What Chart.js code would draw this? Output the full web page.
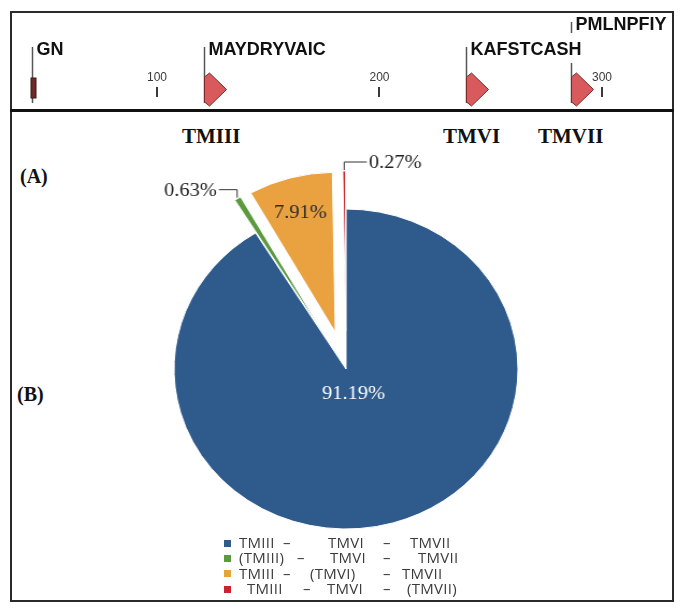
<!DOCTYPE html>
<html>
<head>
<meta charset="utf-8">
<script src="https://cdn.jsdelivr.net/npm/chart.js@4.4.0/dist/chart.umd.min.js"></script>
<style>
  body { margin: 0; background: #fff; width: 685px; height: 616px; position: relative; overflow: hidden; }
  #frame { position: absolute; left: 10px; top: 11px; width: 664px; height: 591px; border: 2px solid #2a2a2a; box-sizing: border-box; }
  #divider { position: absolute; left: 10px; top: 109px; width: 664px; height: 3px; background: #111; }
  #mapWrap { position: absolute; left: 11px; top: 13px; width: 662px; height: 96px; }
  #pieWrap { position: absolute; left: 145.5px; top: 150px; transform: scaleX(1.075); transform-origin: 200px 0; }
  .tm { position: absolute; top: 126px; font: bold 21px "Liberation Serif"; line-height: 21px; color: #111; }
  .panel { position: absolute; font: bold 20px "Liberation Serif"; line-height: 20px; color: #111; }
  #legend { position: absolute; left: 224px; top: 535px; font: 15px "Open Sans"; letter-spacing: 0.3px; color: #3c3c3c; }
  .row { position: relative; height: 15.4px; line-height: 15.4px; width: 260px; }
  .row span { position: absolute; top: 0; white-space: pre; }
  .sw { position: absolute; left: 0; top: 4.5px; width: 7px; height: 7px; }
</style>
</head>
<body>
<div id="frame"></div>
<div id="mapWrap"><canvas id="map" width="662" height="96"></canvas></div>
<div id="divider"></div>
<div class="tm" style="left:182px">TMIII</div>
<div class="tm" style="left:443px">TMVI</div>
<div class="tm" style="left:538px">TMVII</div>
<div class="panel" style="left:20px; top:166px">(A)</div>
<div class="panel" style="left:17px; top:384px">(B)</div>
<div id="pieWrap"><canvas id="pie" width="400" height="438"></canvas></div>
<div id="legend"></div>

<script>
// sequence map (top panel)
const motifNames = ['GN', 'MAYDRYVAIC', 'KAFSTCASH', 'PMLNPFIY'];
const motifStart = [44, 121, 239, 286];
const motifType = ['bar', 'arrow', 'arrow', 'arrow'];
const posTicks = [100, 200, 300];

// pie (bottom panel)
const comboLabels = [
    'TMIII \u2013 TMVI \u2013 TMVII',
    '(TMIII) \u2013 TMVI \u2013 TMVII',
    'TMIII \u2013 (TMVI) \u2013 TMVII',
    'TMIII \u2013 TMVI \u2013 (TMVII)'
];
const comboShare = [91.19, 0.63, 7.91, 0.27];
const comboColors = ['#2f5a8c', '#5b9b3e', '#e9a23f', '#c8242b'];

// where each legend word starts, as in the source figure
const legendTokenX = [
    [15, 59, 104, 159, 186],
    [15, 73, 106, 159, 194],
    [15, 59, 86, 159, 178],
    [23, 79, 103, 159, 183]
];

// top panel drawing
const mapPainter = {
    id: 'mapPainter',
    afterDatasetsDraw(chart) {
        const c = chart.ctx;
        const xs = chart.scales.x;
        c.save();

        c.fillStyle = '#3a3a3a';
        c.font = '12px "Liberation Sans"';
        c.textAlign = 'center';
        c.textBaseline = 'middle';
        posTicks.forEach(v => {
            const px = xs.getPixelForValue(v);
            c.fillText(String(v), px, 64.5);
            c.fillRect(Math.round(px) - 1, 74, 2, 10);
        });

        c.font = 'bold 18px "Liberation Sans"';
        c.textAlign = 'left';
        c.textBaseline = 'alphabetic';
        let prevEnd = -Infinity;
        chart.getDatasetMeta(0).data.forEach((p, i) => {
            const x = Math.round(p.x) + 0.5;
            const w = c.measureText(motifNames[i]).width;
            const raised = x + 4 < prevEnd + 4;
            prevEnd = x + 4 + w;

            c.strokeStyle = '#555';
            c.lineWidth = 1.5;
            c.beginPath();
            if (raised) {
                c.moveTo(x, 9); c.lineTo(x, 20);
                c.moveTo(x, 50);
            } else {
                c.moveTo(x, 34);
            }
            c.lineTo(x, 90);
            c.stroke();

            c.fillStyle = '#111';
            c.fillText(motifNames[i], x + 4, raised ? 17 : 42);

            if (motifType[i] === 'bar') {
                c.fillStyle = '#6e2a2a';
                c.fillRect(x - 1.5, 65, 5, 20);
                c.strokeStyle = '#3a1a1a';
                c.lineWidth = 1;
                c.strokeRect(x - 1.5, 65, 5, 20);
            } else {
                c.beginPath();
                c.moveTo(x, 64);
                c.lineTo(x + 5, 60);
                c.lineTo(x + 22, 76.5);
                c.lineTo(x + 5, 93);
                c.lineTo(x, 89);
                c.closePath();
                c.fillStyle = '#d95a5c';
                c.fill();
                c.strokeStyle = '#7d2a2a';
                c.lineWidth = 1;
                c.stroke();
            }
        });
        c.restore();
    }
};

new Chart(document.getElementById('map'), {
    type: 'scatter',
    data: {
        datasets: [{
            data: motifStart.map(v => ({ x: v, y: 0 })),
            pointRadius: 0
        }]
    },
    options: {
        responsive: false,
        animation: false,
        events: [],
        layout: { padding: 0 },
        scales: {
            x: { type: 'linear', min: 34.4, max: 331.9, display: false },
            y: { min: -1, max: 1, display: false }
        },
        plugins: { legend: { display: false }, tooltip: { enabled: false } }
    },
    plugins: [mapPainter]
});

// pull the small slices out of the pie
const biggest = Math.max(...comboShare);
const explodeDist = 38;

const explodeSlices = {
    id: 'explodeSlices',
    afterUpdate(chart) {
        chart.getDatasetMeta(0).data.forEach((arc, i) => {
            if (comboShare[i] === biggest) return;
            const mid = (arc.startAngle + arc.endAngle) / 2;
            arc.x += Math.cos(mid) * explodeDist;
            arc.y += Math.sin(mid) * explodeDist;
        });
    }
};

// percentage labels on the pie
const pctLabels = {
    id: 'pctLabels',
    afterDatasetsDraw(chart) {
        const c = chart.ctx;
        c.save();
        c.font = '19px "Liberation Serif"';
        c.textBaseline = 'middle';
        chart.getDatasetMeta(0).data.forEach((arc, i) => {
            const { x, y, startAngle, endAngle, outerRadius } =
                arc.getProps(['x', 'y', 'startAngle', 'endAngle', 'outerRadius'], true);
            const r = outerRadius;
            const mid = (startAngle + endAngle) / 2;
            const dx = Math.cos(mid), dy = Math.sin(mid);
            const main = comboShare[i] === biggest;
            const txt = comboShare[i].toFixed(2) + '%';
            if (comboShare[i] >= 1) {
                const d = (main ? 0.16 : 0.775) * r;
                c.fillStyle = main ? '#fff' : '#2b2b2b';
                c.textAlign = 'center';
                c.fillText(txt, x + dx * d, y + dy * d);
            } else {
                const tx = x + dx * (r + 1);
                const ty = y + dy * (r + 1);
                const left = dx < -0.1;
                const rise = 8;
                const run = left ? -17 : 21;
                c.strokeStyle = '#333';
                c.lineWidth = 1;
                c.beginPath();
                c.moveTo(tx, ty);
                c.lineTo(tx, ty - rise);
                c.lineTo(tx + run, ty - rise);
                c.stroke();
                c.fillStyle = '#222';
                c.textAlign = left ? 'right' : 'left';
                c.fillText(txt, tx + run + (left ? -2 : 2), ty - rise + 1);
            }
        });
        c.restore();
    }
};

new Chart(document.getElementById('pie'), {
    type: 'pie',
    data: {
        labels: comboLabels,
        datasets: [{
            data: comboShare,
            backgroundColor: comboColors,
            borderColor: '#fff',
            borderWidth: 1,
            radius: 160
        }]
    },
    options: {
        responsive: false,
        animation: false,
        events: [],
        layout: { padding: 0 },
        plugins: { legend: { display: false }, tooltip: { enabled: false } }
    },
    plugins: [explodeSlices, pctLabels]
});

// legend
const legend = document.getElementById('legend');
comboLabels.forEach((lbl, i) => {
    const row = document.createElement('div');
    row.className = 'row';
    const sw = document.createElement('div');
    sw.className = 'sw';
    sw.style.background = comboColors[i];
    row.appendChild(sw);
    const words = lbl.split(' ');
    words.forEach((w, k) => {
        const s = document.createElement('span');
        s.textContent = w;
        s.style.left = legendTokenX[i][k] + 'px';
        row.appendChild(s);
    });
    legend.appendChild(row);
});
</script>
</body>
</html>
